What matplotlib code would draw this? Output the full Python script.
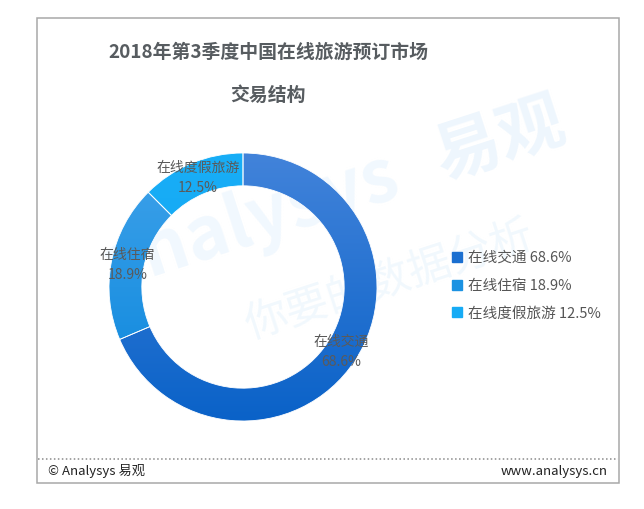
import numpy as np
import matplotlib
matplotlib.use('Agg')
import matplotlib.pyplot as plt
from matplotlib.lines import Line2D
from matplotlib.colors import LinearSegmentedColormap
from matplotlib.patches import Rectangle

plt.rcParams['font.family'] = ['Noto Sans CJK SC', 'DejaVu Sans']

# data ........................................................................
categories = ['在线交通', '在线住宿', '在线度假旅游']
shares = [68.6, 18.9, 12.5]
title = '2018年第3季度中国在线旅游预订市场\n交易结构'

# (top colour, bottom colour) of each sector's vertical gradient
grad_colors = [('#4283da', '#0a62c8'), ('#3fa2ea', '#0986dc'), ('#18aef7', '#12a2ef')]
legend_colors = ['#1a6fd0', '#1b92e2', '#16abf5']

W, H = 644, 509
fig = plt.figure(figsize=(W / 100, H / 100), dpi=100)


def px(x, y):
    return x / W, 1 - y / H


# frame and footer ............................................................
bg = fig.add_axes([0, 0, 1, 1])
bg.set_xlim(0, W)
bg.set_ylim(H, 0)
bg.axis('off')
bg.add_patch(Rectangle((37, 18), 582, 465, fill=False, ec='#a8a8a8', lw=1.1))
bg.plot([38, 618], [459, 459], ls=(0, (1, 1.6)), color='#8a8a8a', lw=1.1)
bg.text(48, 471, '© Analysys 易观', fontsize=9.5, color='#222222', va='center')
bg.text(608, 471, 'www.analysys.cn', fontsize=9.5, color='#222222',
        va='center', ha='right')

# faint watermark
bg.text(250, 222, 'analysys', fontsize=52, fontweight='bold', style='italic',
        color='#f1f8fe', rotation=18, ha='center', va='center', zorder=0)
bg.text(500, 140, '易观', fontsize=48, fontweight='bold', color='#eef6fd',
        rotation=18, ha='center', va='center', zorder=0)
bg.text(390, 282, '你要的数据分析', fontsize=31, color='#f1f8fd',
        rotation=18, ha='center', va='center', zorder=0)

# title
fig.text(*px(268, 52), title.split('\n')[0], fontsize=13.6, fontweight='bold',
         color='#575c60', ha='center', va='center')
fig.text(*px(268, 95), title.split('\n')[1], fontsize=13.6, fontweight='bold',
         color='#575c60', ha='center', va='center')

# donut .......................................................................
cx, cy, r = 243, 287, 134
ax = fig.add_axes([(cx - r) / W, (H - cy - r) / H, 2 * r / W, 2 * r / H])
wedges, _ = ax.pie(shares, startangle=90, counterclock=False, radius=1,
                   wedgeprops=dict(width=0.245, linewidth=0.6, edgecolor='white'))
ax.set_xlim(-1, 1)
ax.set_ylim(-1, 1)
ax.axis('off')

grad = np.linspace(0, 1, 256).reshape(-1, 1)
for w, (top, bottom) in zip(wedges, grad_colors):
    cmap = LinearSegmentedColormap.from_list('g', [bottom, top])
    w.set_facecolor('none')
    im = ax.imshow(grad, cmap=cmap, extent=(-1, 1, -1, 1), origin='lower',
                   aspect='auto', zorder=1)
    im.set_clip_path(w)
    w.set_zorder(2)

mid_r = 1 - 0.245 / 2
for w, name, v in zip(wedges, categories, shares):
    ang = np.deg2rad((w.theta1 + w.theta2) / 2)
    x, y = mid_r * np.cos(ang), mid_r * np.sin(ang)
    ax.text(x, y, f'{name}\n{v}%', ha='center', va='center', fontsize=10,
            color='#5a5a5a', linespacing=1.55, zorder=3)

# legend ......................................................................
handles = [Line2D([], [], ls='none', marker='s', markersize=6.5,
                  markerfacecolor=c, markeredgecolor=c) for c in legend_colors]
labels = [f'{n} {v}%' for n, v in zip(categories, shares)]
fig.legend(handles, labels, loc='upper left', bbox_to_anchor=px(445, 245),
           frameon=False, fontsize=10.5, labelcolor='#555555', handlelength=0.8,
           handletextpad=0.35, labelspacing=0.95, borderaxespad=0)

fig.savefig('out.png', dpi=100)
